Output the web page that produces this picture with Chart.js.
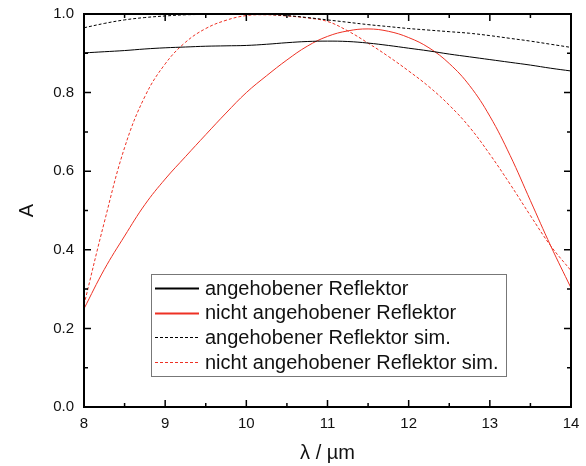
<!DOCTYPE html>
<html>
<head>
<meta charset="utf-8">
<script src="https://cdn.jsdelivr.net/npm/chart.js@4"></script>
<style>
  body { margin: 0; background: #fff; }
  #wrap { width: 586px; height: 466px; position: relative; }
</style>
</head>
<body>
<div id="wrap"><canvas id="myChart"></canvas></div>
<script>
// wavelength in µm
const lambda = [8, 8.25, 8.5, 8.75, 9, 9.25, 9.5, 9.75, 10, 10.25, 10.5, 10.75, 11,
  11.25, 11.5, 11.75, 12, 12.25, 12.5, 12.75, 13, 13.25, 13.5, 13.75, 14];

const raised = [0.901, 0.904, 0.907, 0.911, 0.914, 0.916, 0.918, 0.919, 0.920, 0.923, 0.927, 0.930, 0.931,
  0.930, 0.926, 0.920, 0.913, 0.906, 0.898, 0.891, 0.884, 0.877, 0.870, 0.862, 0.855];
const notRaised = [0.25, 0.35, 0.435, 0.515, 0.58, 0.637, 0.693, 0.748, 0.80, 0.843, 0.883, 0.918, 0.943,
  0.957, 0.962, 0.956, 0.940, 0.914, 0.874, 0.818, 0.740, 0.640, 0.525, 0.410, 0.303];
const raisedSim = [0.965, 0.976, 0.985, 0.991, 0.995, 0.998, 0.999, 1.0, 1.0, 0.999, 0.996, 0.991, 0.985,
  0.979, 0.973, 0.968, 0.963, 0.959, 0.955, 0.951, 0.945, 0.938, 0.931, 0.923, 0.915];
const notRaisedSim = [0.26, 0.47, 0.66, 0.79, 0.873, 0.928, 0.963, 0.984, 0.996, 0.998, 0.995, 0.99, 0.981,
  0.957, 0.926, 0.892, 0.855, 0.815, 0.768, 0.712, 0.643, 0.567, 0.487, 0.410, 0.347];

const seriesNames = ['angehobener Reflektor', 'nicht angehobener Reflektor',
  'angehobener Reflektor sim.', 'nicht angehobener Reflektor sim.'];

const RED = '#ee3124';
const FONT = 'Arial, "Liberation Sans", sans-serif';

function pts(ys) {
  return lambda.map((x, i) => ({ x: x, y: ys[i] }));
}

function line(label, ys, color, dash) {
  return {
    label: label,
    data: pts(ys),
    borderColor: color,
    borderWidth: 1,
    borderDash: dash,
    pointRadius: 0,
    fill: false,
    tension: 0.4
  };
}

// frame, inside ticks and the legend box
const framePlugin = {
  id: 'frame',
  afterDatasetsDraw(chart) {
    const ctx = chart.ctx;
    const a = chart.chartArea;
    const xs = chart.scales.x, ys = chart.scales.y;
    ctx.save();
    ctx.strokeStyle = '#000';
    ctx.lineWidth = 2;
    ctx.strokeRect(a.left, a.top, a.right - a.left, a.bottom - a.top);

    ctx.lineWidth = 1.5;
    ctx.beginPath();
    for (let v = 8; v <= 14.001; v += 0.5) {
      const px = xs.getPixelForValue(v);
      const len = Math.abs(v - Math.round(v)) < 0.01 ? 7 : 4;
      ctx.moveTo(px, a.bottom); ctx.lineTo(px, a.bottom - len);
      ctx.moveTo(px, a.top); ctx.lineTo(px, a.top + len);
    }
    for (let k = 0; k <= 10; k++) {
      const py = ys.getPixelForValue(k / 10);
      const len = k % 2 === 0 ? 7 : 4;
      ctx.moveTo(a.left, py); ctx.lineTo(a.left + len, py);
      ctx.moveTo(a.right, py); ctx.lineTo(a.right - len, py);
    }
    ctx.stroke();

    // legend
    const bx = 151, by = 274, bw = 355, bh = 102;
    ctx.fillStyle = '#fff';
    ctx.fillRect(bx, by, bw, bh);
    ctx.strokeStyle = '#777';
    ctx.lineWidth = 1;
    ctx.strokeRect(bx + 0.5, by + 0.5, bw, bh);
    ctx.font = '20px ' + FONT;
    ctx.textBaseline = 'middle';
    chart.data.datasets.forEach((ds, i) => {
      const cy = 288 + i * 24.7;
      ctx.strokeStyle = ds.borderColor;
      ctx.lineWidth = ds.borderDash.length ? 1 : 2;
      ctx.setLineDash(ds.borderDash);
      ctx.beginPath();
      ctx.moveTo(155, Math.round(cy) + 0.5);
      ctx.lineTo(199, Math.round(cy) + 0.5);
      ctx.stroke();
      ctx.setLineDash([]);
      ctx.fillStyle = '#111';
      ctx.fillText(ds.label, 205, cy + 1);
    });
    ctx.restore();
  }
};

const ctx = document.getElementById('myChart').getContext('2d');
new Chart(ctx, {
  type: 'line',
  data: {
    datasets: [
      line(seriesNames[0], raised, '#000', []),
      line(seriesNames[1], notRaised, RED, []),
      line(seriesNames[2], raisedSim, '#000', [3, 2]),
      line(seriesNames[3], notRaisedSim, RED, [3, 2])
    ]
  },
  options: {
    responsive: true,
    maintainAspectRatio: false,
    animation: false,
    layout: { padding: { top: 14, right: 15, left: 0, bottom: 0 } },
    plugins: {
      legend: { display: false },
      tooltip: { enabled: false }
    },
    scales: {
      x: {
        type: 'linear',
        min: 8,
        max: 14,
        grid: { display: false, drawTicks: false },
        border: { display: false },
        ticks: { stepSize: 1, padding: 8, color: '#111', font: { family: FONT, size: 15 } },
        title: { display: true, text: 'λ / µm', color: '#111', font: { family: FONT, size: 20 }, padding: { top: 0, bottom: 1 } },
        afterFit(scale) {
          scale.height = 59;
          scale.paddingLeft = 0;
          scale.paddingRight = 0;
        }
      },
      y: {
        min: 0,
        max: 1,
        grid: { display: false, drawTicks: false },
        border: { display: false },
        ticks: {
          stepSize: 0.2, padding: 10, color: '#111', font: { family: FONT, size: 15 },
          callback: v => v.toFixed(1)
        },
        title: { display: true, text: 'A', color: '#111', font: { family: FONT, size: 20 }, padding: { top: 15, bottom: 0 } },
        afterFit(scale) {
          scale.width = 84;
          scale.paddingTop = 0;
          scale.paddingBottom = 0;
        }
      }
    }
  },
  plugins: [framePlugin]
});
</script>
</body>
</html>
